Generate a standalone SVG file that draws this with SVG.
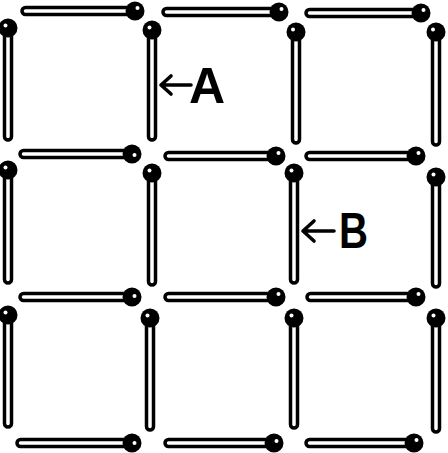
<svg xmlns="http://www.w3.org/2000/svg" width="448" height="453" viewBox="0 0 448 453">
<style>
.stick{fill:#fff;stroke:#000;stroke-width:3.5}
.head{fill:#000}
.hl{fill:#fff}
.arrow{fill:none;stroke:#000;stroke-width:3.6;stroke-linecap:round;stroke-linejoin:round}
.lbl{font-family:"Liberation Sans",Arial,sans-serif;font-weight:bold;font-size:50px;fill:#000}
</style>
<rect width="448" height="453" fill="#fff"/>
<!-- horizontal matches -->
<g id="h00"><rect class="stick" x="22" y="7.5" width="110" height="7" rx="3.5"/><circle class="head" cx="135" cy="11" r="9.5"/><circle class="hl" cx="137.5" cy="8" r="2"/></g>
<g id="h01"><rect class="stick" x="163" y="8.5" width="113" height="7" rx="3.5"/><circle class="head" cx="279" cy="12" r="9.5"/><circle class="hl" cx="281.5" cy="9" r="2"/></g>
<g id="h02"><rect class="stick" x="306" y="9.5" width="112" height="7" rx="3.5"/><circle class="head" cx="421" cy="13" r="9.5"/><circle class="hl" cx="423.5" cy="10" r="2"/></g>
<g id="h10"><rect class="stick" x="20" y="150.5" width="109" height="7" rx="3.5"/><circle class="head" cx="132" cy="154" r="9.5"/><circle class="hl" cx="134.5" cy="155" r="2"/></g>
<g id="h11"><rect class="stick" x="165" y="152.5" width="108" height="7" rx="3.5"/><circle class="head" cx="276" cy="156" r="9.5"/><circle class="hl" cx="278.5" cy="153" r="2"/></g>
<g id="h12"><rect class="stick" x="306" y="152.5" width="107" height="7" rx="3.5"/><circle class="head" cx="416" cy="156" r="9.5"/><circle class="hl" cx="418.5" cy="153" r="2"/></g>
<g id="h20"><rect class="stick" x="20" y="293.5" width="109" height="7" rx="3.5"/><circle class="head" cx="132" cy="297" r="9.5"/><circle class="hl" cx="134.5" cy="296" r="2"/></g>
<g id="h21"><rect class="stick" x="165" y="293.5" width="108" height="7" rx="3.5"/><circle class="head" cx="276" cy="297" r="9.5"/><circle class="hl" cx="278.5" cy="294" r="2"/></g>
<g id="h22"><rect class="stick" x="307" y="293.5" width="106" height="7" rx="3.5"/><circle class="head" cx="416" cy="297" r="9.5"/><circle class="hl" cx="418.5" cy="294" r="2"/></g>
<g id="h30"><rect class="stick" x="17" y="439.5" width="112" height="7" rx="3.5"/><circle class="head" cx="132" cy="443" r="9.5"/><circle class="hl" cx="134.5" cy="443" r="2"/></g>
<g id="h31"><rect class="stick" x="165" y="439.5" width="106" height="7" rx="3.5"/><circle class="head" cx="274" cy="443" r="9.5"/><circle class="hl" cx="276.5" cy="441" r="2"/></g>
<g id="h32"><rect class="stick" x="306" y="439.5" width="105" height="7" rx="3.5"/><circle class="head" cx="414" cy="443" r="9.5"/><circle class="hl" cx="416.5" cy="440" r="2"/></g>
<!-- vertical matches -->
<g id="v00"><rect class="stick" x="4.5" y="31" width="7" height="109" rx="3.5"/><circle class="head" cx="8" cy="28" r="9.5"/><circle class="hl" cx="5.5" cy="25.5" r="2"/></g>
<g id="v01"><rect class="stick" x="148.5" y="33" width="7" height="107" rx="3.5"/><circle class="head" cx="152" cy="30" r="9.5"/><circle class="hl" cx="149.5" cy="27.5" r="2"/></g>
<g id="v02"><rect class="stick" x="292.5" y="35" width="7" height="108" rx="3.5"/><circle class="head" cx="296" cy="32" r="9.5"/><circle class="hl" cx="293" cy="29.5" r="2"/></g>
<g id="v03"><rect class="stick" x="432.5" y="35" width="7" height="110" rx="3.5"/><circle class="head" cx="436" cy="32" r="9.5"/><circle class="hl" cx="433" cy="29.5" r="2"/></g>
<g id="v10"><rect class="stick" x="4.5" y="173" width="7" height="110" rx="3.5"/><circle class="head" cx="8" cy="170" r="9.5"/><circle class="hl" cx="5.5" cy="167.5" r="2"/></g>
<g id="v11"><rect class="stick" x="148.5" y="176" width="7" height="109" rx="3.5"/><circle class="head" cx="152" cy="173" r="9.5"/><circle class="hl" cx="149.5" cy="170.5" r="2"/></g>
<g id="v12"><rect class="stick" x="290.5" y="176" width="7" height="107" rx="3.5"/><circle class="head" cx="294" cy="173" r="9.5"/><circle class="hl" cx="291.5" cy="170.5" r="2"/></g>
<g id="v13"><rect class="stick" x="432.5" y="180" width="7" height="107" rx="3.5"/><circle class="head" cx="436" cy="177" r="9.5"/><circle class="hl" cx="433.5" cy="174.5" r="2"/></g>
<g id="v20"><rect class="stick" x="4.5" y="318" width="7" height="109" rx="3.5"/><circle class="head" cx="8" cy="315" r="9.5"/><circle class="hl" cx="5.5" cy="312.5" r="2"/></g>
<g id="v21"><rect class="stick" x="146.5" y="321" width="7" height="109" rx="3.5"/><circle class="head" cx="150" cy="318" r="9.5"/><circle class="hl" cx="147.5" cy="315.5" r="2"/></g>
<g id="v22"><rect class="stick" x="290.5" y="321" width="7" height="107" rx="3.5"/><circle class="head" cx="294" cy="318" r="9.5"/><circle class="hl" cx="291.5" cy="315.5" r="2"/></g>
<g id="v23"><rect class="stick" x="432.5" y="321" width="7" height="111" rx="3.5"/><circle class="head" cx="436" cy="318" r="9.5"/><circle class="hl" cx="433.5" cy="315.5" r="2"/></g>
<!-- labels -->
<g id="labelA"><text class="lbl" x="189" y="103">A</text></g>
<g id="labelB"><text class="lbl" x="339" y="248" textLength="29" lengthAdjust="spacingAndGlyphs">B</text></g>
<!-- connectors -->
<g id="connectors">
<path class="arrow" d="M191 85 H161 M171 76 L161 85 L171 94"/>
<path class="arrow" d="M334 231 H303 M314 221 L303 231 L314 241"/>
</g>
</svg>
